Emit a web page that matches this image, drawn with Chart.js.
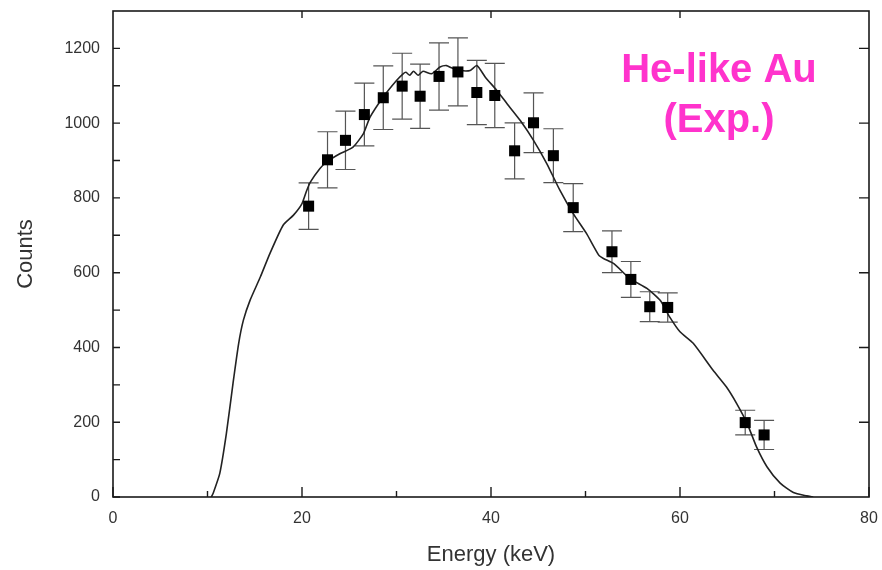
<!DOCTYPE html>
<html>
<head>
<meta charset="utf-8">
<script src="https://cdn.jsdelivr.net/npm/chart.js@4"></script>
<style>
  html, body { margin: 0; padding: 0; background: #fff; }
  #wrap { width: 882px; height: 570px; position: relative; }
</style>
</head>
<body>
<div id="wrap"><canvas id="spectrumChart"></canvas></div>
<script>
// ===================== DATA =====================

// simulated spectrum (solid line)
const curveEnergy = [10.4, 10.6, 11.3, 12.0, 12.7, 13.3, 13.8, 14.5, 15.6, 16.6, 18.0, 19.1, 20.0, 20.5, 20.9, 21.9,
    22.6, 24.0, 25.4, 26.5, 27.2, 28.6, 30.0, 30.7, 31.0, 31.4, 31.8, 32.3, 32.8, 33.7, 34.6, 35.3, 35.8, 36.7,
    37.8, 38.5, 39.4, 40.6, 41.7, 43.1, 44.5, 45.9, 47.3, 48.7, 50.1, 51.4, 51.9, 53.0, 54.7, 56.5, 57.9, 58.9,
    60.0, 61.4, 63.5, 64.9, 66.0, 67.1, 68.1, 69.2, 70.6, 72.0, 73.4, 74.1];
const curveCounts = [0, 10, 63, 170, 304, 411, 473, 526, 589, 651, 727, 754, 785, 820, 843, 879,
    896, 918, 936, 972, 1016, 1070, 1114, 1132, 1136, 1128, 1139, 1128, 1139, 1132, 1150, 1154, 1148, 1141,
    1141, 1154, 1123, 1088, 1052, 1007, 954, 892, 820, 758, 705, 647, 638, 624, 584, 558, 526, 482,
    442, 411, 339, 295, 250, 197, 134, 81, 37, 12, 3, 0];

// measured points with error bars
const expEnergy = [20.7, 22.7, 24.6, 26.6, 28.6, 30.6, 32.5, 34.5, 36.5, 38.5, 40.4,
    42.5, 44.5, 46.6, 48.7, 52.8, 54.8, 56.8, 58.7, 66.9, 68.9];
const expCounts = [778, 902, 954, 1023, 1068, 1099, 1072, 1125, 1137, 1082, 1074,
    926, 1001, 913, 774, 656, 582, 509, 507, 199, 166];
const expError = [62, 75, 78, 84, 85, 88, 86, 90, 91, 86, 86,
    75, 80, 72, 64, 56, 48, 40, 39, 33, 39];

// axis ticks
const xTicks = [0, 20, 40, 60, 80];
const xMinorTicks = [10, 30, 50, 70];
const xTopTicks = [20, 40, 60];
const yTicks = [0, 200, 400, 600, 800, 1000, 1200];
const yMinorTicks = [100, 300, 500, 700, 900, 1100];
const yRightTicks = [200, 400, 600, 800, 1000, 1200];

const labelLines = ['He-like Au', '(Exp.)'];

// ===================== PLUGINS =====================

// frame + inward ticks
const framePlugin = {
    id: 'frame',
    afterDraw(chart) {
        const ctx = chart.ctx;
        const a = chart.chartArea;
        const xs = chart.scales.x, ys = chart.scales.y;
        ctx.save();
        ctx.strokeStyle = '#1a1a1a';
        ctx.lineWidth = 1.6;
        ctx.strokeRect(a.left, a.top, a.right - a.left, a.bottom - a.top);
        ctx.lineWidth = 1.4;
        ctx.beginPath();
        xTicks.forEach(v => {
            const px = xs.getPixelForValue(v);
            ctx.moveTo(px, a.bottom); ctx.lineTo(px, a.bottom - 10);
        });
        xMinorTicks.forEach(v => {
            const px = xs.getPixelForValue(v);
            ctx.moveTo(px, a.bottom); ctx.lineTo(px, a.bottom - 6);
        });
        xTopTicks.forEach(v => {
            const px = xs.getPixelForValue(v);
            ctx.moveTo(px, a.top); ctx.lineTo(px, a.top + 7);
        });
        yTicks.concat(yMinorTicks).forEach(v => {
            const py = ys.getPixelForValue(v);
            ctx.moveTo(a.left, py); ctx.lineTo(a.left + 7, py);
        });
        yRightTicks.forEach(v => {
            const py = ys.getPixelForValue(v);
            ctx.moveTo(a.right, py); ctx.lineTo(a.right - 10, py);
        });
        ctx.stroke();

        // annotation
        ctx.fillStyle = '#ff33cc';
        ctx.font = 'bold 40px "Liberation Sans", Arial, sans-serif';
        ctx.textAlign = 'center';
        ctx.textBaseline = 'alphabetic';
        ctx.fillText(labelLines[0], 719, 82);
        ctx.fillText(labelLines[1], 719, 132);
        ctx.restore();
    }
};

// vertical error bars with caps
const errorBarPlugin = {
    id: 'errorBars',
    beforeDatasetsDraw(chart) {
        const ctx = chart.ctx;
        const xs = chart.scales.x, ys = chart.scales.y;
        ctx.save();
        ctx.strokeStyle = '#555';
        ctx.lineWidth = 1.2;
        ctx.beginPath();
        expEnergy.forEach((e, i) => {
            const px = xs.getPixelForValue(e);
            const top = ys.getPixelForValue(expCounts[i] + expError[i]);
            const bot = ys.getPixelForValue(expCounts[i] - expError[i]);
            ctx.moveTo(px, top); ctx.lineTo(px, bot);
            ctx.moveTo(px - 10, top); ctx.lineTo(px + 10, top);
            ctx.moveTo(px - 10, bot); ctx.lineTo(px + 10, bot);
        });
        ctx.stroke();
        ctx.restore();
    }
};

// ===================== CHART =====================

const tickFont = { family: "'Liberation Sans', Arial, sans-serif", size: 16 };
const titleFont = { family: "'Liberation Sans', Arial, sans-serif", size: 22 };

new Chart(document.getElementById('spectrumChart'), {
    type: 'scatter',
    data: {
        datasets: [
            {
                label: 'Simulation',
                data: curveEnergy.map((e, i) => ({ x: e, y: curveCounts[i] })),
                showLine: true,
                borderColor: '#222',
                borderWidth: 1.6,
                pointRadius: 0,
                tension: 0.2,
                order: 2
            },
            {
                label: 'Experiment',
                data: expEnergy.map((e, i) => ({ x: e, y: expCounts[i] })),
                pointStyle: 'rect',
                pointRadius: 7.8,
                backgroundColor: '#000',
                borderColor: '#000',
                borderWidth: 0,
                order: 1
            }
        ]
    },
    options: {
        responsive: true,
        maintainAspectRatio: false,
        animation: false,
        layout: { padding: { top: 11, right: 13, left: 0, bottom: 0 } },
        plugins: {
            legend: { display: false },
            tooltip: { enabled: false }
        },
        scales: {
            x: {
                type: 'linear',
                min: 0,
                max: 80,
                afterBuildTicks: scale => { scale.ticks = xTicks.map(v => ({ value: v })); },
                afterFit: scale => {
                    scale.height = 73;
                    scale.paddingLeft = 0;
                    scale.paddingRight = 0;
                },
                grid: { display: false, drawTicks: false },
                border: { display: false },
                ticks: { color: '#333', font: tickFont, padding: 12, maxRotation: 0, callback: v => String(v) },
                title: {
                    display: true,
                    text: 'Energy (keV)',
                    color: '#333',
                    font: titleFont,
                    padding: { top: 0, bottom: 2 }
                }
            },
            y: {
                type: 'linear',
                min: 0,
                max: 1300,
                afterBuildTicks: scale => { scale.ticks = yTicks.map(v => ({ value: v })); },
                afterFit: scale => {
                    scale.width = 113;
                    scale.paddingTop = 0;
                    scale.paddingBottom = 0;
                },
                grid: { display: false, drawTicks: false },
                border: { display: false },
                ticks: { color: '#333', font: tickFont, padding: 13, callback: v => String(v) },
                title: {
                    display: true,
                    text: 'Counts',
                    color: '#333',
                    font: titleFont,
                    padding: { top: 13, bottom: 0 }
                }
            }
        }
    },
    plugins: [errorBarPlugin, framePlugin]
});
</script>
</body>
</html>
